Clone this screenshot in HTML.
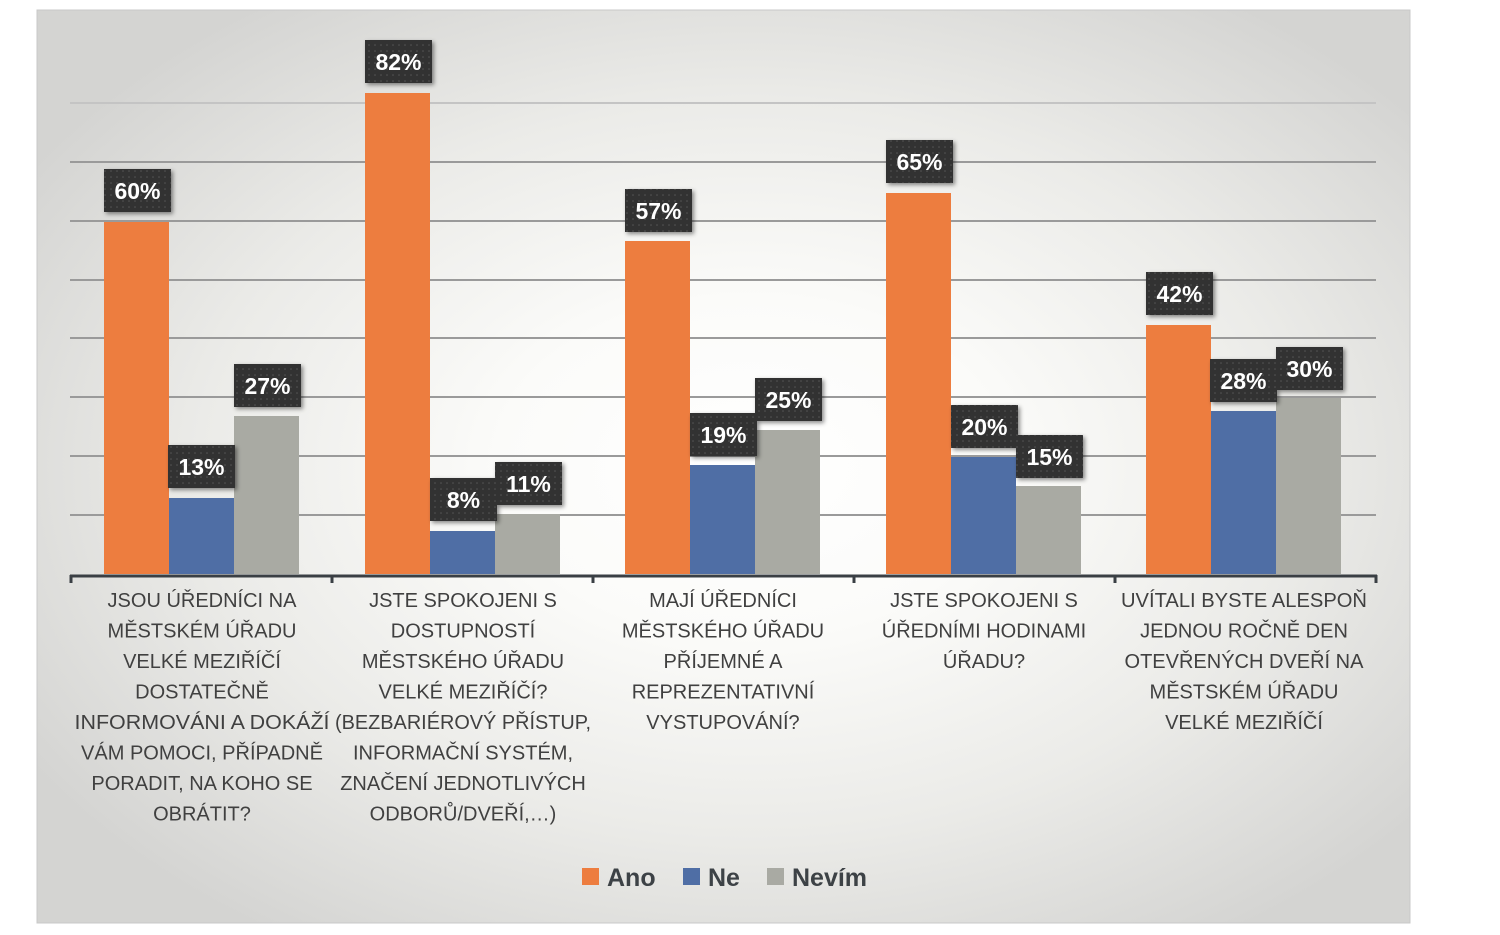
<!DOCTYPE html>
<html><head><meta charset="utf-8"><style>
body{margin:0;background:#fff;width:1500px;height:935px;overflow:hidden}
svg{display:block}
</style></head><body>
<svg width="1500" height="935" xmlns="http://www.w3.org/2000/svg" font-family="'Liberation Sans', sans-serif">
<defs>
<radialGradient id="bg" cx="0.52" cy="0.5" r="0.62">
<stop offset="0" stop-color="#ffffff"/><stop offset="0.3" stop-color="#fbfbf9"/><stop offset="0.65" stop-color="#ebebe8"/><stop offset="1" stop-color="#d4d4d2"/>
</radialGradient>
<filter id="sh" x="-20%" y="-20%" width="150%" height="150%"><feDropShadow dx="2" dy="2" stdDeviation="2" flood-color="#000" flood-opacity="0.45"/></filter>
<pattern id="dots" width="6" height="6" patternUnits="userSpaceOnUse"><rect width="6" height="6" fill="#333"/><circle cx="3" cy="3" r="0.8" fill="#555"/></pattern>
</defs>
<rect x="37" y="10" width="1373" height="913" fill="url(#bg)" stroke="#c8c8c8"/>
<g stroke="#9a9a9a" stroke-width="2">
<line x1="70" x2="1376" y1="515" y2="515"/><line x1="70" x2="1376" y1="456" y2="456"/>
<line x1="70" x2="1376" y1="397" y2="397"/><line x1="70" x2="1376" y1="338" y2="338"/>
<line x1="70" x2="1376" y1="280" y2="280"/><line x1="70" x2="1376" y1="221" y2="221"/>
<line x1="70" x2="1376" y1="162" y2="162"/><line x1="70" x2="1376" y1="103" y2="103" stroke="#c4c4c4"/>
</g>
<g>
<rect x="104" y="222" width="65" height="352" fill="#ed7d3f"/>
<rect x="169" y="498" width="65" height="76" fill="#4f6ea5"/>
<rect x="234" y="416" width="65" height="158" fill="#a9aaa3"/>
<rect x="365" y="93" width="65" height="481" fill="#ed7d3f"/>
<rect x="430" y="531" width="65" height="43" fill="#4f6ea5"/>
<rect x="495" y="514" width="65" height="60" fill="#a9aaa3"/>
<rect x="625" y="241" width="65" height="333" fill="#ed7d3f"/>
<rect x="690" y="465" width="65" height="109" fill="#4f6ea5"/>
<rect x="755" y="430" width="65" height="144" fill="#a9aaa3"/>
<rect x="886" y="193" width="65" height="381" fill="#ed7d3f"/>
<rect x="951" y="457" width="65" height="117" fill="#4f6ea5"/>
<rect x="1016" y="486" width="65" height="88" fill="#a9aaa3"/>
<rect x="1146" y="325" width="65" height="249" fill="#ed7d3f"/>
<rect x="1211" y="411" width="65" height="163" fill="#4f6ea5"/>
<rect x="1276" y="398" width="65" height="176" fill="#a9aaa3"/>
</g>
<g stroke="#3a3f44" stroke-width="3" fill="none">
<line x1="70" x2="1377" y1="576" y2="576"/>
<line x1="71" x2="71" y1="575" y2="583"/><line x1="332" x2="332" y1="575" y2="583"/>
<line x1="593" x2="593" y1="575" y2="583"/><line x1="854" x2="854" y1="575" y2="583"/>
<line x1="1115" x2="1115" y1="575" y2="583"/><line x1="1376" x2="1376" y1="575" y2="583"/>
</g>
<g font-weight="bold" font-size="23" fill="#fff" text-anchor="middle">
<g filter="url(#sh)" fill="url(#dots)">
<rect x="104" y="169" width="67" height="43"/><rect x="168" y="445" width="67" height="43"/><rect x="234" y="364" width="67" height="43"/>
<rect x="365" y="40" width="67" height="43"/><rect x="430" y="478" width="67" height="43"/><rect x="495" y="462" width="67" height="43"/>
<rect x="625" y="189" width="67" height="43"/><rect x="690" y="413" width="67" height="43"/><rect x="755" y="378" width="67" height="43"/>
<rect x="886" y="140" width="67" height="43"/><rect x="951" y="405" width="67" height="43"/><rect x="1016" y="435" width="67" height="43"/>
<rect x="1146" y="272" width="67" height="43"/><rect x="1210" y="359" width="67" height="43"/><rect x="1276" y="347" width="67" height="43"/>
</g>
<text x="137.5" y="199">60%</text><text x="201.5" y="475">13%</text><text x="267.5" y="394">27%</text>
<text x="398.5" y="70">82%</text><text x="463.5" y="508">8%</text><text x="528.5" y="492">11%</text>
<text x="658.5" y="219">57%</text><text x="723.5" y="443">19%</text><text x="788.5" y="408">25%</text>
<text x="919.5" y="170">65%</text><text x="984.5" y="435">20%</text><text x="1049.5" y="465">15%</text>
<text x="1179.5" y="302">42%</text><text x="1243.5" y="389">28%</text><text x="1309.5" y="377">30%</text>
</g>
<g font-size="20" fill="#404040" text-anchor="middle">
<text x="202" y="607"><tspan x="202">JSOU ÚŘEDNÍCI NA</tspan><tspan x="202" dy="30.5">MĚSTSKÉM ÚŘADU</tspan><tspan x="202" dy="30.5">VELKÉ MEZIŘÍČÍ</tspan><tspan x="202" dy="30.5">DOSTATEČNĚ</tspan><tspan x="202" dy="30.5" textLength="255" lengthAdjust="spacingAndGlyphs">INFORMOVÁNI A DOKÁŽÍ</tspan><tspan x="202" dy="30.5">VÁM POMOCI, PŘÍPADNĚ</tspan><tspan x="202" dy="30.5">PORADIT, NA KOHO SE</tspan><tspan x="202" dy="30.5">OBRÁTIT?</tspan></text>
<text x="463" y="607"><tspan x="463">JSTE SPOKOJENI S</tspan><tspan x="463" dy="30.5">DOSTUPNOSTÍ</tspan><tspan x="463" dy="30.5">MĚSTSKÉHO ÚŘADU</tspan><tspan x="463" dy="30.5">VELKÉ MEZIŘÍČÍ?</tspan><tspan x="463" dy="30.5" textLength="256" lengthAdjust="spacingAndGlyphs">(BEZBARIÉROVÝ PŘÍSTUP,</tspan><tspan x="463" dy="30.5">INFORMAČNÍ SYSTÉM,</tspan><tspan x="463" dy="30.5">ZNAČENÍ JEDNOTLIVÝCH</tspan><tspan x="463" dy="30.5">ODBORŮ/DVEŘÍ,…)</tspan></text>
<text x="723" y="607"><tspan x="723">MAJÍ ÚŘEDNÍCI</tspan><tspan x="723" dy="30.5">MĚSTSKÉHO ÚŘADU</tspan><tspan x="723" dy="30.5">PŘÍJEMNÉ A</tspan><tspan x="723" dy="30.5">REPREZENTATIVNÍ</tspan><tspan x="723" dy="30.5">VYSTUPOVÁNÍ?</tspan></text>
<text x="984" y="607"><tspan x="984">JSTE SPOKOJENI S</tspan><tspan x="984" dy="30.5">ÚŘEDNÍMI HODINAMI</tspan><tspan x="984" dy="30.5">ÚŘADU?</tspan></text>
<text x="1244" y="607"><tspan x="1244" textLength="246" lengthAdjust="spacingAndGlyphs">UVÍTALI BYSTE ALESPOŇ</tspan><tspan x="1244" dy="30.5">JEDNOU ROČNĚ DEN</tspan><tspan x="1244" dy="30.5">OTEVŘENÝCH DVEŘÍ NA</tspan><tspan x="1244" dy="30.5">MĚSTSKÉM ÚŘADU</tspan><tspan x="1244" dy="30.5">VELKÉ MEZIŘÍČÍ</tspan></text>
</g>
<g font-size="25" font-weight="bold" fill="#3d4246">
<rect x="582" y="868" width="17" height="17" fill="#ed7d3f"/><text x="607" y="886">Ano</text>
<rect x="683" y="868" width="17" height="17" fill="#4f6ea5"/><text x="708" y="886">Ne</text>
<rect x="767" y="868" width="17" height="17" fill="#a9aaa3"/><text x="792" y="886">Nevím</text>
</g>
</svg>
</body></html>
